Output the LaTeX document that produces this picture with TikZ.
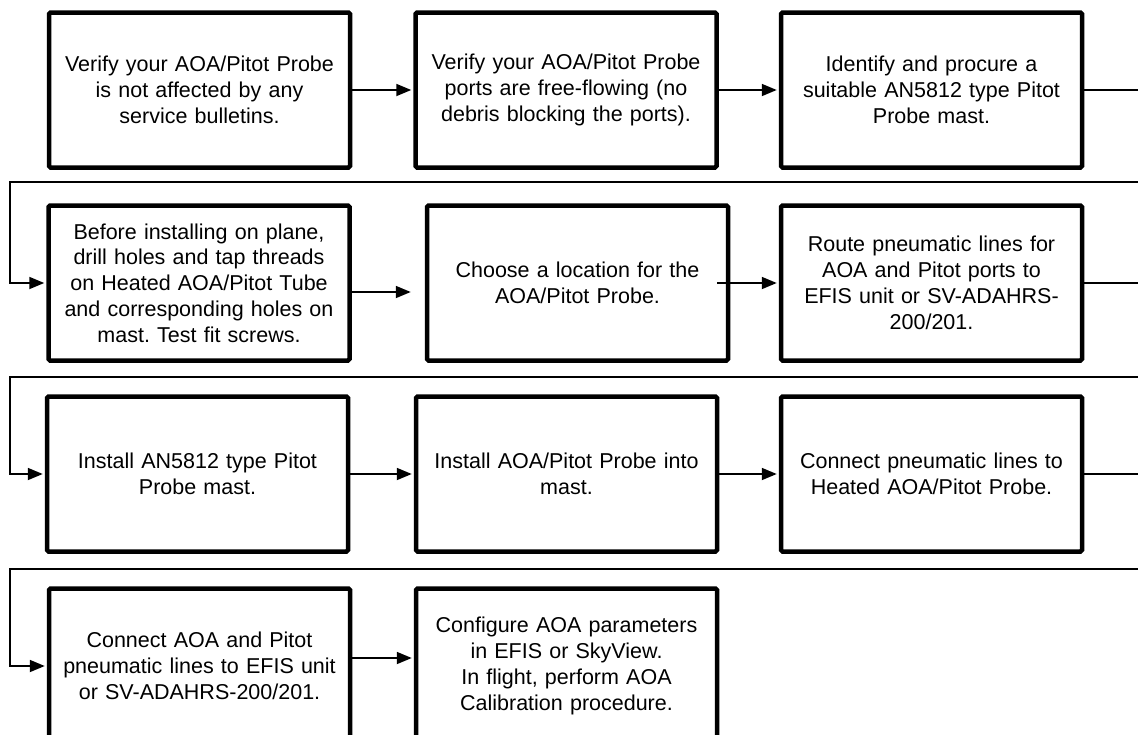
\documentclass[tikz,border=0pt]{standalone}
\usepackage{fontspec}
\setmainfont{Liberation Sans}
\usetikzlibrary{arrows.meta,calc}
\frenchspacing

\begin{document}
\begin{tikzpicture}[x=1pt,y=-1pt,->,>={Triangle[length=15pt,width=12pt]},shorten >=2pt,line width=1.8pt]
\tikzstyle{step box}=[draw=black,line width=4.5pt,rounded corners=1.5pt,fill=white,minimum width=301pt,minimum height=155pt,text width=292pt,inner sep=0pt,align=center,font=\fontsize{21.5}{25.8}\selectfont]

\path[use as bounding box] (0,0) rectangle (1138,734);
\clip (0,0) rectangle (1138,734);

\node[step box] (A) at (199.5,90)  {Verify your AOA/Pitot Probe\\is not affected by any\\service bulletins.};
\node[step box] (B) at (566,90)    {Verify your AOA/Pitot Probe\\ports are free-flowing (no\\debris blocking the ports).};
\node[step box] (C) at (931.5,90)  {Identify and procure a\\suitable AN5812 type Pitot\\Probe mast.};
\node[step box] (D) at (199,283)   {Before installing on plane,\\drill holes and tap threads\\on Heated AOA/Pitot Tube\\and corresponding holes on\\mast. Test fit screws.};
\node[step box] (E) at (577.5,283) {Choose a location for the\\AOA/Pitot Probe.};
\node[step box] (F) at (931.5,283) {Route pneumatic lines for\\AOA and Pitot ports to\\EFIS unit or SV-ADAHRS-\\200/201.};
\node[step box] (G) at (197.5,474) {Install AN5812 type Pitot\\Probe mast.};
\node[step box] (H) at (566.5,474) {Install AOA/Pitot Probe into\\mast.};
\node[step box] (I) at (931.5,474) {Connect pneumatic lines to\\Heated AOA/Pitot Probe.};
\node[step box] (J) at (199.5,666) {Connect AOA and Pitot\\pneumatic lines to EFIS unit\\or SV-ADAHRS-200/201.};
\node[step box] (K) at (566.5,666) {Configure AOA parameters\\in EFIS or SkyView.\\In flight, perform AOA\\Calibration procedure.};

% turning points of the row returns
\coordinate (r1) at (10,182);
\coordinate (r2) at (10,377);
\coordinate (r3) at (10,569);

\draw (A) -- (B);
\draw (B) -- (C);
\draw (C.east) -- ++(80,0) |- (r1) |- (D.west);
\draw ([yshift=-9pt]D.east) -- ([xshift=-12pt,yshift=-9pt]E.west);
\draw ([xshift=-13pt]E.east) -- (F.west);
\draw (F.east) -- ++(80,0) |- (r2) |- (G.west);
\draw (G) -- (H);
\draw (H) -- (I);
\draw (I.east) -- ++(80,0) |- (r3) |- (J.west);
\draw ([yshift=8pt]J.east) -- ([yshift=8pt]K.west);
\end{tikzpicture}
\end{document}
